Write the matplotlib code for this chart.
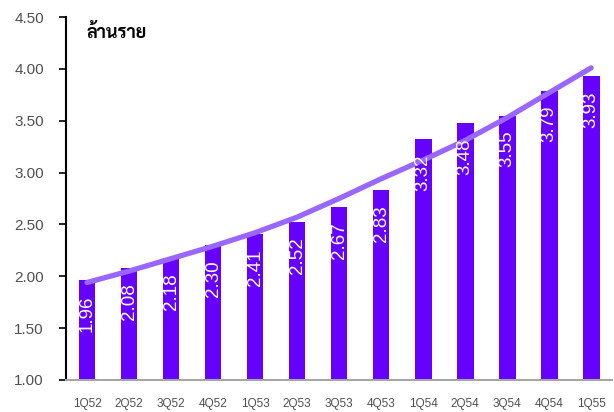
import matplotlib
matplotlib.use("Agg")
import matplotlib.pyplot as plt
import numpy as np

# data
quarters = ["1Q52", "2Q52", "3Q52", "4Q52", "1Q53", "2Q53", "3Q53",
            "4Q53", "1Q54", "2Q54", "3Q54", "4Q54", "1Q55"]
subscribers = [1.96, 2.08, 2.18, 2.30, 2.41, 2.52, 2.67,
               2.83, 3.32, 3.48, 3.55, 3.79, 3.93]
trend = [1.94, 2.05, 2.17, 2.29, 2.42, 2.57, 2.75,
         2.94, 3.12, 3.31, 3.53, 3.77, 4.01]
unit_label = "ล้านราย"

bar_color = "#6600ff"
line_color = "#9966ff"

plt.rcParams['font.family'] = ['Liberation Sans', 'DejaVu Sans']

fig = plt.figure(figsize=(6.14, 4.12), dpi=100)
ax = fig.add_axes([0.1075, 0.0777, 0.8895, 0.881])

x = np.arange(len(quarters))
ax.bar(x, subscribers, width=0.4, color=bar_color, zorder=2)
ax.plot(x, trend, color=line_color, linewidth=3.8, solid_capstyle='round', zorder=3)

for xi, v in zip(x, subscribers):
    ax.annotate(f"{v:.2f}", (xi, v), xytext=(0, -11), textcoords='offset points',
                rotation=90, ha='center', va='top', color='white', fontsize=13.5, zorder=4)

ax.set_xlim(-0.5, len(quarters) - 0.5)
ax.set_ylim(1.0, 4.5)
ax.set_yticks(np.arange(1.0, 4.51, 0.5))
ax.set_yticklabels([f"{t:.2f}" for t in np.arange(1.0, 4.51, 0.5)])
ax.set_xticks(x)
ax.set_xticklabels(quarters)

ax.tick_params(axis='y', direction='out', length=5, width=1.2, colors='black',
               labelcolor='#505050', labelsize=11, pad=11)
ax.tick_params(axis='x', length=0, labelcolor='#505050', labelsize=8.5, pad=13)

for s in ['top', 'right']:
    ax.spines[s].set_visible(False)
ax.spines['left'].set_linewidth(1.5)
ax.spines['left'].set_color('black')
ax.spines['bottom'].set_linewidth(1.5)
ax.spines['bottom'].set_color('#a6a6a6')

ax.text(0.037, 0.955, unit_label, transform=ax.transAxes, ha='left', va='center',
        fontsize=13, fontweight='bold', family=['Sarabun', 'Liberation Sans', 'DejaVu Sans'])

fig.savefig("out.png", dpi=100)
